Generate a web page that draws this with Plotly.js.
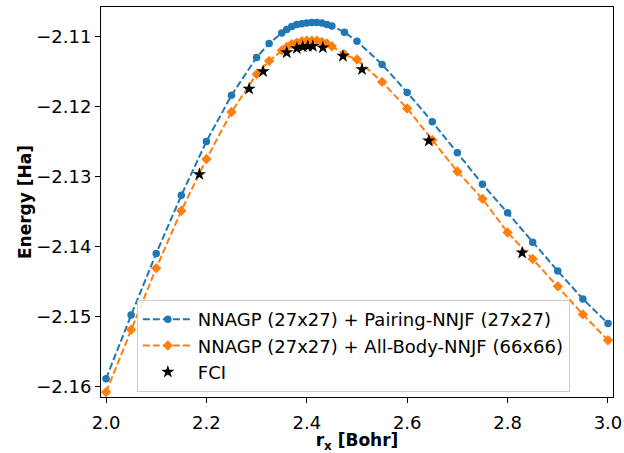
<!DOCTYPE html>
<html>
<head>
<meta charset="utf-8">
<script src="https://cdn.plot.ly/plotly-3.0.1.min.js"></script>
<style>html,body{margin:0;padding:0;background:#fff;}#chart{width:624px;height:453px;}</style>
</head>
<body>
<div id="chart"></div>
<script>
const rx = [2.00, 2.05, 2.10, 2.15, 2.20, 2.25, 2.30, 2.325, 2.35, 2.36, 2.37, 2.38, 2.39, 2.40, 2.41, 2.42, 2.43, 2.44, 2.45, 2.475, 2.50, 2.55, 2.60, 2.65, 2.70, 2.75, 2.80, 2.85, 2.90, 2.95, 3.00];
const pairingEnergy = [-2.1589, -2.1498, -2.1410, -2.1327, -2.1250, -2.1184, -2.1130, -2.1110, -2.1095, -2.1090, -2.1086, -2.1083, -2.1082, -2.1081, -2.1080, -2.1080, -2.1081, -2.1083, -2.1085, -2.1094, -2.1107, -2.1140, -2.1180, -2.1222, -2.1266, -2.1311, -2.1352, -2.1394, -2.1435, -2.1475, -2.1510];
const allBodyEnergy = [-2.1608, -2.1519, -2.1431, -2.1349, -2.1275, -2.1208, -2.1154, -2.1135, -2.1120, -2.1115, -2.1111, -2.1109, -2.1107, -2.1106, -2.1106, -2.1106, -2.1108, -2.1110, -2.1114, -2.1126, -2.1133, -2.1165, -2.1203, -2.1248, -2.1293, -2.1332, -2.1380, -2.1418, -2.1457, -2.1497, -2.1534];
const fciX = [2.186, 2.285, 2.313, 2.36, 2.38, 2.392, 2.402, 2.412, 2.432, 2.472, 2.510, 2.643, 2.829];
const fciEnergy = [-2.1297, -2.1175, -2.1150, -2.1123, -2.1117, -2.1115, -2.1114, -2.1114, -2.1116, -2.1128, -2.1147, -2.1249, -2.1409];
const labels = ["NNAGP (27x27) + Pairing-NNJF (27x27)", "NNAGP (27x27) + All-Body-NNJF (66x66)", "FCI"];

const traces = [
  {x: rx, y: pairingEnergy, name: labels[0], type: 'scatter', mode: 'lines+markers',
   line: {color: '#1f77b4', width: 2, dash: '7px,3px'},
   marker: {symbol: 'circle', size: 7.5, color: '#1f77b4'}},
  {x: rx, y: allBodyEnergy, name: labels[1], type: 'scatter', mode: 'lines+markers',
   line: {color: '#ff7f0e', width: 2, dash: '7px,3px'},
   marker: {symbol: 'diamond', size: 8, color: '#ff7f0e'}},
  {x: fciX, y: fciEnergy, name: labels[2], type: 'scatter', mode: 'markers',
   marker: {symbol: 'star', size: 10, color: '#000000'}}
];

const font = {family: 'DejaVu Sans, sans-serif', size: 18, color: '#000'};
const titleFont = {family: 'DejaVu Sans, sans-serif', size: 17, color: '#000'};
const layout = {
  width: 624, height: 453,
  margin: {l: 101, r: 11, t: 7, b: 56, pad: 0},
  paper_bgcolor: '#fff', plot_bgcolor: '#fff',
  font: font,
  showlegend: true,
  legend: {x: 0.07, y: 0.013, xanchor: 'left', yanchor: 'bottom',
    bgcolor: 'rgba(255,255,255,0.8)', bordercolor: '#cccccc', borderwidth: 1,
    font: font, itemwidth: 50, tracegroupgap: 0},
  xaxis: {
    range: [1.99, 3.01], tickvals: [2.0, 2.2, 2.4, 2.6, 2.8, 3.0], tickformat: '.1f',
    showgrid: false, zeroline: false, showline: true, mirror: true, linecolor: '#000', linewidth: 1,
    ticks: 'outside', ticklen: 5, tickwidth: 1, tickcolor: '#000',
    ticklabelstandoff: 4,
    tickfont: font,
    title: {text: '<b>r<sub>x</sub> [Bohr]</b>', font: titleFont, standoff: 1}
  },
  yaxis: {
    range: [-2.1615, -2.1058], dtick: 0.01, tick0: -2.16, tickformat: '.2f',
    showgrid: false, zeroline: false, showline: true, mirror: true, linecolor: '#000', linewidth: 1,
    ticks: 'outside', ticklen: 5, tickwidth: 1, tickcolor: '#000',
    tickfont: font,
    title: {text: '<b>Energy [Ha]</b>', font: titleFont, standoff: 0}
  }
};

Plotly.newPlot('chart', traces, layout, {displayModeBar: false, staticPlot: true});
</script>
</body>
</html>
